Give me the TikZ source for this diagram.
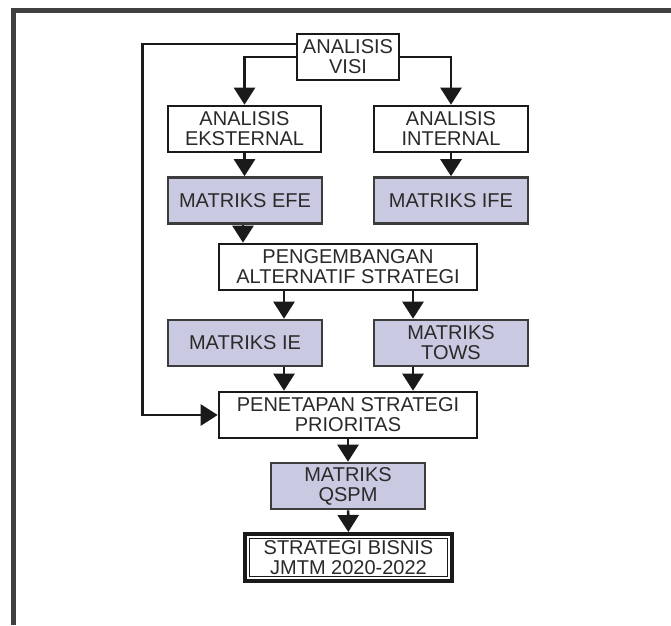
\documentclass[tikz,border=0pt]{standalone}
\usepackage{fontspec}
\setmainfont{Liberation Sans}
\usetikzlibrary{arrows.meta,calc}
\definecolor{jmlav}{HTML}{C9C9E1}
\definecolor{jmtext}{HTML}{2A2A2A}
\definecolor{jmline}{HTML}{1A1A1A}

\begin{document}
\begin{tikzpicture}[x=1pt,y=-1pt,
      box/.style={draw=jmline,line width=2.6pt,fill=white,minimum height=46pt,
                  inner sep=0pt,align=center,text=jmtext,
                  font=\fontsize{20}{20}\selectfont},
      mbox/.style={box,fill=jmlav,draw=jmline!85},
      arr/.style={-{Triangle[length=17pt,width=21pt]},line width=2.6pt,jmline}]
    \useasboundingbox (0,0) rectangle (671,625);
    \draw[line width=5pt,black!75] (13,625) -- (13,10) -- (671,10);
    % boxes
    \node[box,minimum width=102pt] (visi) at (348,57) {ANALISIS\\VISI};
    \node[box,minimum width=153pt] (eks) at (244.5,129) {ANALISIS\\EKSTERNAL};
    \node[box,minimum width=154pt] (int) at (451,129) {ANALISIS\\INTERNAL};
    \node[mbox,minimum width=154pt] (efe) at (245,200.5) {MATRIKS EFE};
    \node[mbox,minimum width=154pt] (ife) at (451,200.5) {MATRIKS IFE};
    \node[box,minimum width=258pt] (peng) at (348,267) {PENGEMBANGAN\\ALTERNATIF STRATEGI};
    \node[mbox,minimum width=154pt] (ie) at (245,343) {MATRIKS IE};
    \node[mbox,minimum width=154pt] (tows) at (451,343) {MATRIKS\\TOWS};
    \node[box,minimum width=258pt] (pen) at (348,415) {PENETAPAN STRATEGI\\PRIORITAS};
    \node[mbox,minimum width=154pt] (qspm) at (348,486) {MATRIKS\\QSPM};
    \node[box,line width=4pt,minimum width=207pt,minimum height=47pt] (bis) at (348.5,557.5)
      {STRATEGI BISNIS\\JMTM 2020-2022};
    \draw[line width=1.6pt,jmline] ([shift={(6.5pt,-6.5pt)}]bis.north west)
      rectangle ([shift={(-6.5pt,6.5pt)}]bis.south east);
    % connectors
    \coordinate (loop) at (142.5,415);
    \draw[arr] (visi.west) -| (eks.north);
    \draw[arr] (visi.east) -| (int.north);
    \draw[arr] (eks.south) -- (eks.south |- efe.north);
    \draw[arr] (int.south) -- (int.south |- ife.north);
    \draw[arr] ([xshift=-2pt]efe.south) -- ([xshift=-2pt]efe.south |- peng.north);
    \draw[arr] ([xshift=-64pt]peng.south) -- ([xshift=-64pt]peng.south |- ie.north);
    \draw[arr] ([xshift=65pt]peng.south) -- ([xshift=65pt]peng.south |- tows.north);
    \draw[arr] ([xshift=-64pt]pen.north |- ie.south) -- ([xshift=-64pt]pen.north);
    \draw[arr] ([xshift=65pt]pen.north |- tows.south) -- ([xshift=65pt]pen.north);
    \draw[arr] (pen) -- (qspm);
    \draw[arr] (qspm) -- (bis);
    \draw[arr] ([yshift=13pt]visi.west) -| (loop) -- (pen.west);
  \end{tikzpicture}
\end{document}
